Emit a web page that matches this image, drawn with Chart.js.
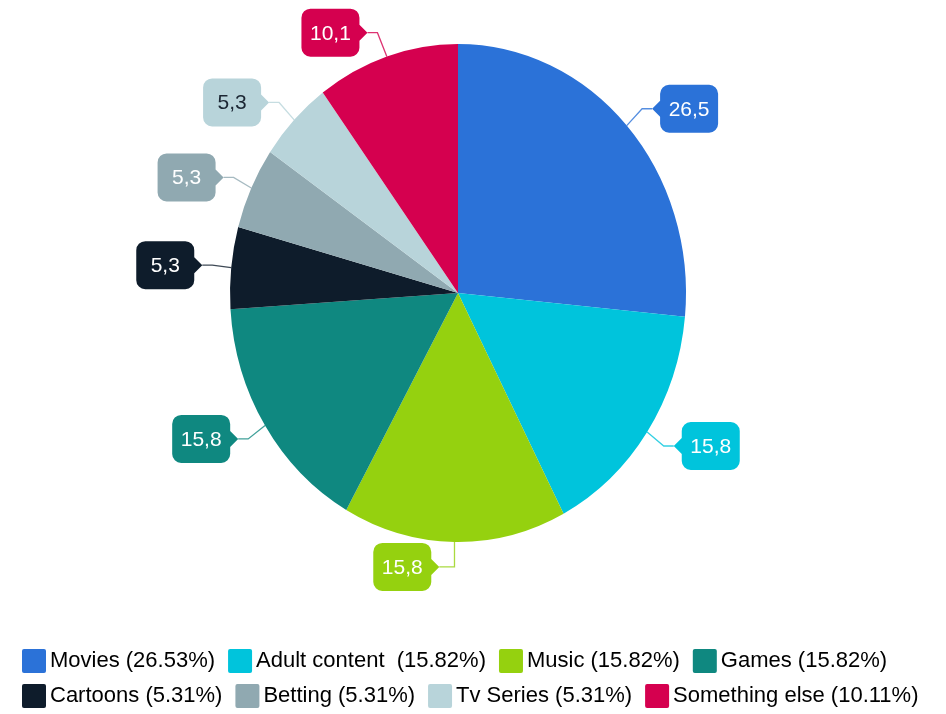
<!DOCTYPE html>
<html><head><meta charset="utf-8">
<script src="https://cdn.jsdelivr.net/npm/chart.js@4"></script>
<style>html,body{margin:0;padding:0;background:#fff}#wrap{width:946px;height:714px;position:relative}</style>
</head><body><div id="wrap"><canvas id="c"></canvas></div>
<script>
const categories = ['Movies', 'Adult content', 'Music', 'Games', 'Cartoons', 'Betting', 'Tv Series', 'Something else'];
const values = [26.53, 15.82, 15.82, 15.82, 5.31, 5.31, 5.31, 10.11];
const legendLabels = ['Movies (26.53%)', 'Adult content  (15.82%)', 'Music (15.82%)', 'Games (15.82%)', 'Cartoons (5.31%)', 'Betting (5.31%)', 'Tv Series (5.31%)', 'Something else (10.11%)'];

const colors = ['#2b72d8', '#00c4dc', '#95d10f', '#0f8880', '#0e1c2b', '#90a9b1', '#b8d4da', '#d5004f'];
const labelTextColors = ['#ffffff', '#ffffff', '#ffffff', '#ffffff', '#ffffff', '#ffffff', '#1b2633', '#ffffff'];

const PIE = {cx: 458, cy: 293, r: 228, sy: 1.092};
const FONT = 'Arial, "Liberation Sans", sans-serif';
const LEGEND_BOX = 24;

const ellipsePlugin = {
  id: 'ellipse',
  beforeDatasetsDraw(chart) {
    const a = chart.getDatasetMeta(0).data[0];
    const ctx = chart.ctx;
    ctx.save();
    ctx.translate(PIE.cx, PIE.cy);
    ctx.scale(1, PIE.sy);
    ctx.translate(-a.x, -a.y);
  },
  afterDatasetsDraw(chart) { chart.ctx.restore(); }
};

function boxPath(ctx, x, y, w, h, r, side, tipLen, half) {
  ctx.beginPath();
  ctx.moveTo(x + r, y);
  ctx.lineTo(x + w - r, y);
  ctx.arcTo(x + w, y, x + w, y + r, r);
  if (side === -1) {
    ctx.lineTo(x + w, y + h / 2 - half);
    ctx.lineTo(x + w + tipLen, y + h / 2);
    ctx.lineTo(x + w, y + h / 2 + half);
  }
  ctx.lineTo(x + w, y + h - r);
  ctx.arcTo(x + w, y + h, x + w - r, y + h, r);
  ctx.lineTo(x + r, y + h);
  ctx.arcTo(x, y + h, x, y + h - r, r);
  if (side === 1) {
    ctx.lineTo(x, y + h / 2 + half);
    ctx.lineTo(x - tipLen, y + h / 2);
    ctx.lineTo(x, y + h / 2 - half);
  }
  ctx.lineTo(x, y + r);
  ctx.arcTo(x, y, x + r, y, r);
  ctx.closePath();
}

const calloutPlugin = {
  id: 'callouts',
  afterDraw(chart) {
    const ctx = chart.ctx;
    const meta = chart.getDatasetMeta(0);
    const W = 58, H = 48, TIP = 8;
    meta.data.forEach((el, i) => {
      const p = el.getProps(['startAngle', 'endAngle', 'outerRadius'], true);
      const mid = (p.startAngle + p.endAngle) / 2;
      const c = Math.cos(mid), s = Math.sin(mid);
      const ax = PIE.cx + p.outerRadius * c;
      const ay = PIE.cy + p.outerRadius * PIE.sy * s;
      const side = c >= 0 ? 1 : -1;
      const D = 52 + 14 * Math.abs(c);
      const bx = ax + side * D;
      const by = ay + 25 * s;
      const tipX = bx - side * (W / 2 + TIP);
      const elbowX = Math.abs(c) < 0.2 ? ax : tipX - side * 10;
      ctx.save();
      ctx.strokeStyle = colors[i];
      ctx.globalAlpha = 0.8;
      ctx.lineWidth = 1.3;
      ctx.beginPath();
      ctx.moveTo(ax, ay);
      ctx.lineTo(elbowX, by);
      ctx.lineTo(tipX, by);
      ctx.stroke();
      ctx.globalAlpha = 1;
      ctx.fillStyle = colors[i];
      boxPath(ctx, bx - W / 2, by - H / 2, W, H, 9, side, TIP, 8);
      ctx.fill();
      ctx.fillStyle = labelTextColors[i];
      ctx.font = '21px ' + FONT;
      ctx.textAlign = 'center';
      ctx.textBaseline = 'middle';
      ctx.fillText(values[i].toFixed(1).replace('.', ','), bx, by + 1);
      ctx.restore();
    });
    const lg = chart.legend;
    if (lg && lg.legendHitBoxes) {
      lg.legendHitBoxes.forEach((hb, i) => {
        const cy = hb.top + hb.height / 2;
        ctx.save();
        ctx.fillStyle = colors[i];
        ctx.beginPath();
        ctx.roundRect(hb.left, cy - LEGEND_BOX / 2, LEGEND_BOX, LEGEND_BOX, 2);
        ctx.fill();
        ctx.restore();
      });
    }
  }
};

new Chart(document.getElementById('c'), {
  type: 'pie',
  data: {
    labels: categories,
    datasets: [{
      data: values,
      backgroundColor: colors,
      borderWidth: 0,
      radius: PIE.r,
      clip: false
    }]
  },
  options: {
    responsive: true,
    maintainAspectRatio: false,
    animation: false,
    layout: {padding: {left: 9, right: 0, top: 0, bottom: -3}},
    plugins: {
      tooltip: {enabled: false},
      legend: {
        position: 'bottom',
        align: 'start',
        labels: {
          boxWidth: 17,
          boxHeight: 13,
          padding: 13,
          color: '#1f1f1f',
          font: {size: 22, family: FONT},
          generateLabels(chart) {
            return legendLabels.map((t, i) => ({
              text: t,
              fillStyle: 'rgba(0,0,0,0)',
              strokeStyle: 'rgba(0,0,0,0)',
              lineWidth: 0,
              hidden: false,
              index: i
            }));
          }
        }
      }
    }
  },
  plugins: [ellipsePlugin, calloutPlugin]
});
</script>
</body></html>
